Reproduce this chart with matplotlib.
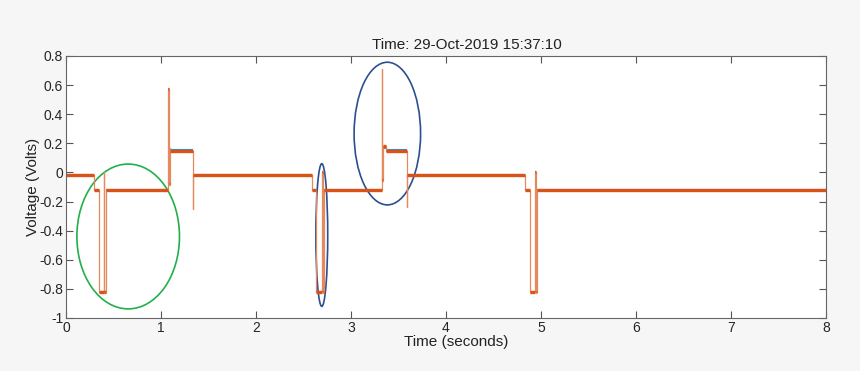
import numpy as np
import matplotlib.pyplot as plt
from matplotlib.patches import Ellipse

plt.rcParams['font.family'] = ['Liberation Sans', 'DejaVu Sans']

# step breakpoints (seconds) - each level holds from times[i] to times[i+1]
times = [0.00, 0.29, 0.35, 0.400, 0.405, 0.425, 1.075, 1.080, 1.090, 1.100,
         1.335, 1.340, 2.585, 2.630, 2.700, 2.705, 2.720, 3.325, 3.330, 3.340,
         3.370, 3.590, 3.595, 4.830, 4.880, 4.940, 4.945, 4.960, 8.00]
volts_orange = [-0.02, -0.12, -0.82, 0.00, -0.82, -0.12, 0.57, -0.08, 0.17, 0.15,
                -0.25, -0.02, -0.12, -0.82, 0.00, -0.82, -0.12, 0.71, -0.05, 0.18,
                0.15, -0.24, -0.02, -0.12, -0.82, 0.00, -0.82, -0.12]
volts_blue = [-0.016, -0.118, -0.82, 0.00, -0.82, -0.118, 0.57, -0.08, 0.16, 0.152,
              -0.25, -0.016, -0.118, -0.82, 0.00, -0.82, -0.118, 0.71, -0.05, 0.17,
              0.152, -0.24, -0.016, -0.118, -0.82, 0.00, -0.82, -0.118]

# annotation ellipses: (center x, center y, width, height, colour)
ellipses = [(0.655, -0.44, 1.08, 0.995, '#22b04a'),
            (2.693, -0.43, 0.125, 0.98, '#2e4f8f'),
            (3.383, 0.267, 0.70, 0.98, '#2e4f8f')]

yticks = [0.8, 0.6, 0.4, 0.2, 0, -0.2, -0.4, -0.6, -0.8, -1]
ytick_labels = ['0.8', '0.6', '0.4', '0.2', '0', '-0.2', '-0.4', '-0.6', '-0.8', '-1']

blue = '#0072BD'
orange = '#D95319'

fig = plt.figure(figsize=(8.6, 3.71), dpi=100)
fig.patch.set_facecolor('#f6f6f6')
ax = fig.add_axes([0.0767, 0.1429, 0.8837, 0.7062])
ax.set_facecolor('white')

t_arr = np.array(times)
# blue trace underneath, only plateaus peek out a little
ax.hlines(volts_blue, t_arr[:-1], t_arr[1:], color=blue, lw=1.5, alpha=0.8)
# orange trace on top: thin light edges, thick plateaus
ax.step(t_arr, volts_orange + [volts_orange[-1]], where='post', color='#e48a5e', lw=0.9)
ax.hlines(volts_orange, t_arr[:-1], t_arr[1:], color=orange, lw=2.4)

for cx, cy, w, h, c in ellipses:
    ax.add_patch(Ellipse((cx, cy), w, h, fill=False, edgecolor=c, lw=1.2))

ax.set_xlim(0, 8)
ax.set_ylim(-1, 0.8)
ax.set_xticks(range(9))
ax.set_yticks(yticks)
ax.set_yticklabels(ytick_labels)
ax.tick_params(direction='in', length=5, top=True, right=True, labelsize=10,
               color='#555555', labelcolor='#262626', pad=2)
for s in ax.spines.values():
    s.set_color('#666666')
    s.set_linewidth(0.8)

ax.text(0.527, 1.015, 'Time: 29-Oct-2019 15:37:10', transform=ax.transAxes,
        ha='center', va='bottom', fontsize=11, color='#222222')
ax.set_xlabel('Time (seconds)', fontsize=11, color='#222222')
ax.xaxis.set_label_coords(0.514, -0.065)
ax.set_ylabel('Voltage (Volts)', fontsize=11, color='#222222')
ax.yaxis.set_label_coords(-0.034, 0.5)

plt.savefig('out.png', dpi=100, facecolor=fig.get_facecolor())
